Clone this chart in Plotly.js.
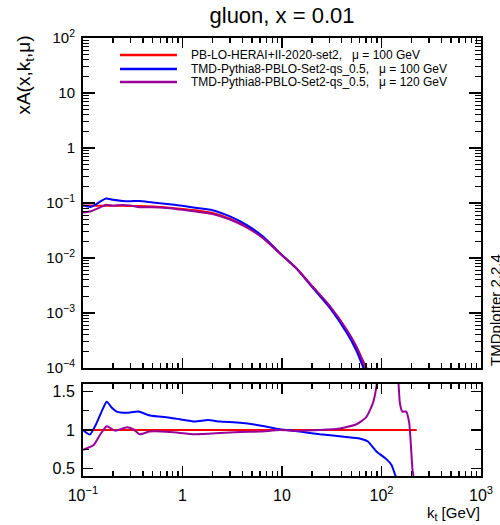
<!DOCTYPE html>
<html>
<head>
<meta charset="utf-8">
<script src="https://cdn.plot.ly/plotly-3.0.1.min.js"></script>
<style>html,body{margin:0;padding:0;background:#fff;}#chart{width:500px;height:525px;}</style>
</head>
<body>
<div id="chart"></div>
<script>
// ---- data ----
const ktTop = [0.1, 0.12, 0.15, 0.17, 0.2, 0.25, 0.3, 0.37, 0.5, 0.7, 1, 1.4, 2, 3, 4.4, 6.5, 9.5, 14, 20, 30, 45, 56, 68, 80];
const redTop = [0.090, 0.090, 0.089, 0.089, 0.089, 0.089, 0.088, 0.088, 0.086, 0.083, 0.078, 0.073, 0.066, 0.052, 0.037, 0.023, 0.0122, 0.0065, 0.0031, 0.00135, 4.7e-4, 2.3e-4, 1.0e-4, 5e-5];
const blueTop = [0.090, 0.085, 0.107, 0.121, 0.114, 0.109, 0.108, 0.109, 0.102, 0.096, 0.089, 0.081, 0.074, 0.057, 0.040, 0.0243, 0.0123, 0.0064, 0.00298, 0.00126, 4.28e-4, 2.05e-4, 8.6e-5, 4e-5];
const purpleTop = [0.067, 0.071, 0.084, 0.093, 0.089, 0.092, 0.090, 0.084, 0.084, 0.081, 0.075, 0.069, 0.063, 0.050, 0.036, 0.0227, 0.0122, 0.0064, 0.0031, 0.00136, 4.9e-4, 2.47e-4, 1.15e-4, 6.5e-5];

const ktRed = [0.1, 226];
const redRatio = [1, 1];
const ktBlue = [0.1, 0.117, 0.137, 0.155, 0.173, 0.195, 0.218, 0.275, 0.36, 0.47, 0.75, 0.94, 1.33, 1.8, 2.37, 3.8, 6.0, 9.5, 15, 24, 44, 60, 73, 89, 112, 126, 140];
const blueRatio = [1.0, 0.94, 1.09, 1.25, 1.37, 1.29, 1.24, 1.225, 1.24, 1.19, 1.16, 1.14, 1.11, 1.13, 1.11, 1.095, 1.06, 1.01, 0.98, 0.945, 0.91, 0.89, 0.85, 0.72, 0.62, 0.545, 0.38];
const ktPurple = [0.1, 0.127, 0.148, 0.173, 0.21, 0.275, 0.32, 0.37, 0.47, 0.75, 1.33, 2.37, 3.8, 6.0, 9.5, 15, 24, 38.5, 56, 70, 82, 90, 95, 140, 148, 153, 162, 177, 190, 205, 215];
const purpleRatio = [0.74, 0.80, 0.935, 1.05, 0.99, 1.035, 1.01, 0.945, 0.98, 0.975, 0.945, 0.96, 0.975, 0.98, 1.0, 0.99, 1.0, 1.02, 1.075, 1.165, 1.35, 1.61, 1.9, 1.9, 1.62, 1.35, 1.24, 1.24, 1.09, 0.48, 0.3];

const seriesNames = [
  'PB-LO-HERAI+II-2020-set2,\u00a0\u00a0 \u03bc = 100 GeV',
  'TMD-Pythia8-PBLO-Set2-qs_0.5,\u00a0\u00a0 \u03bc = 100 GeV',
  'TMD-Pythia8-PBLO-Set2-qs_0.5,\u00a0\u00a0 \u03bc = 120 GeV'
];
const colors = ['#ff0000', '#0000ff', '#990099'];

const xTickVals = [0.1, 1, 10, 100, 1000];
const xTickText = ['10<sup>\u22121</sup>', '1', '10', '10<sup>2</sup>', '10<sup>3</sup>'];
const yTopTickVals = [1e-4, 1e-3, 1e-2, 1e-1, 1, 10, 100];
const yTopTickText = ['10<sup>\u22124</sup>', '10<sup>\u22123</sup>', '10<sup>\u22122</sup>', '10<sup>\u22121</sup>', '1', '10', '10<sup>2</sup>'];
const yRatioTickVals = [0.5, 1, 1.5];
const yRatioTickText = ['0.5', '1', '1.5'];
const yRatioMinorVals = [0.75, 1.25];

// minor tick positions for log axes
function logMinors(lo, hi) {
  const out = [];
  for (let e = lo; e < hi; e++) for (let m = 2; m <= 9; m++) out.push(m * Math.pow(10, e));
  return out;
}

const font = {family: 'Liberation Sans, Arial, sans-serif', color: '#000'};
const lw = 2;

const traces = [
  {x: ktTop, y: redTop, xaxis: 'x2', yaxis: 'y2', name: seriesNames[0], mode: 'lines', line: {color: colors[0], width: lw, shape: 'spline', smoothing: 0.6}},
  {x: ktTop, y: blueTop, xaxis: 'x2', yaxis: 'y2', name: seriesNames[1], mode: 'lines', line: {color: colors[1], width: lw, shape: 'spline', smoothing: 0.6}},
  {x: ktTop, y: purpleTop, xaxis: 'x2', yaxis: 'y2', name: seriesNames[2], mode: 'lines', line: {color: colors[2], width: lw, shape: 'spline', smoothing: 0.6}},
  {x: ktRed, y: redRatio, xaxis: 'x', yaxis: 'y', mode: 'lines', line: {color: colors[0], width: lw}},
  {x: ktBlue, y: blueRatio, xaxis: 'x', yaxis: 'y', mode: 'lines', line: {color: colors[1], width: lw, shape: 'spline', smoothing: 0.5}},
  {x: ktPurple, y: purpleRatio, xaxis: 'x', yaxis: 'y', mode: 'lines', line: {color: colors[2], width: lw, shape: 'spline', smoothing: 0.5}}
];

const axCommon = {
  showline: true, linecolor: '#000', linewidth: 2, mirror: 'allticks',
  ticks: 'inside', tickcolor: '#000', tickwidth: 1.2,
  showgrid: false, zeroline: false
};
const minorStyle = {ticks: 'inside', tickcolor: '#000', tickwidth: 1.2};

const xMinor = logMinors(-1, 3);
const yMinor = logMinors(-4, 2);

// manual legend (compact ROOT-style row spacing)
const legX0 = 0.093, legX1 = 0.236, legTextX = 0.269;
const legRowsY = [0.961, 0.929, 0.8995];
const legendShapes = seriesNames.map((n, i) => ({
  type: 'line', xref: 'paper', yref: 'paper', x0: legX0, x1: legX1, y0: legRowsY[i], y1: legRowsY[i],
  line: {color: colors[i], width: 2.5}
}));
const legendTexts = seriesNames.map((n, i) => ({
  text: n, xref: 'paper', yref: 'paper', x: legTextX, y: legRowsY[i], xanchor: 'left', yanchor: 'middle',
  showarrow: false, font: Object.assign({size: 12}, font), borderpad: 0
}));

const layout = {
  width: 500, height: 525,
  margin: {l: 83, r: 19, t: 38, b: 49},
  paper_bgcolor: '#fff', plot_bgcolor: '#fff',
  font: font,
  title: {text: 'gluon, x = 0.01', font: Object.assign({size: 22}, font), x: 0.5, xanchor: 'center', xref: 'paper', y: 0.971, yanchor: 'middle', yref: 'container'},
  showlegend: false,
  xaxis: Object.assign({}, axCommon, {type: 'log', range: [-1, 3], anchor: 'y', domain: [0, 1],
    tickmode: 'array', tickvals: xTickVals, ticktext: xTickText, ticklen: 10, ticklabelstandoff: 4,
    tickfont: Object.assign({size: 16}, font),
    minor: Object.assign({tickmode: 'array', tickvals: xMinor, ticklen: 5}, minorStyle)}),
  yaxis: Object.assign({}, axCommon, {range: [0.4, 1.6], anchor: 'x', domain: [0, 0.21],
    tickmode: 'array', tickvals: yRatioTickVals, ticktext: yRatioTickText, ticklen: 10, ticklabelstandoff: 3,
    tickfont: Object.assign({size: 16}, font),
    minor: Object.assign({tickmode: 'array', tickvals: yRatioMinorVals, ticklen: 6}, minorStyle)}),
  xaxis2: Object.assign({}, axCommon, {type: 'log', range: [-1, 3], anchor: 'y2', domain: [0, 1],
    tickmode: 'array', tickvals: xTickVals, ticklen: 10, showticklabels: false,
    minor: Object.assign({tickmode: 'array', tickvals: xMinor, ticklen: 5}, minorStyle)}),
  yaxis2: Object.assign({}, axCommon, {type: 'log', range: [-4, 2], anchor: 'x2', domain: [0.2466, 1],
    tickmode: 'array', tickvals: yTopTickVals, ticktext: yTopTickText, ticklen: 12, ticklabelstandoff: 3,
    tickfont: Object.assign({size: 15}, font),
    minor: Object.assign({tickmode: 'array', tickvals: yMinor, ticklen: 6}, minorStyle)}),
  shapes: legendShapes,
  annotations: [
    {text: 'xA(x,k<sub>t</sub>,\u03bc)', textangle: -90, xref: 'paper', yref: 'paper', x: -0.146, y: 1.011, xanchor: 'center', yanchor: 'top', showarrow: false, font: Object.assign({size: 19}, font)},
    {text: 'k<sub>t</sub> [GeV]', xref: 'paper', yref: 'paper', x: 1, y: -0.085, xanchor: 'right', yanchor: 'middle', showarrow: false, font: Object.assign({size: 15}, font), borderpad: 0},
    {text: 'TMDplotter 2.2.4', textangle: -90, xref: 'paper', yref: 'paper', x: 1.011, y: 0.379, xanchor: 'left', yanchor: 'middle', showarrow: false, font: Object.assign({size: 15}, font)}
  ].concat(legendTexts)
};

Plotly.newPlot('chart', traces, layout, {staticPlot: true, displayModeBar: false});
</script>
</body>
</html>
